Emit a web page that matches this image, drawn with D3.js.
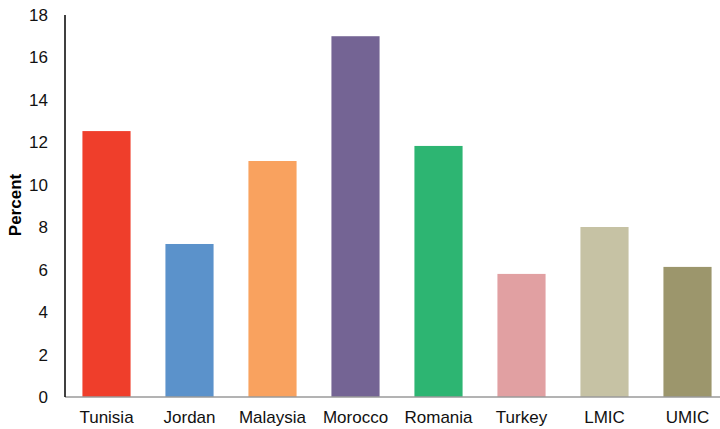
<!DOCTYPE html>
<html>
<head>
<meta charset="utf-8">
<script src="https://cdn.jsdelivr.net/npm/d3@7/dist/d3.min.js"></script>
<style>
  body { margin: 0; background: #fff; }
  svg { display: block; font-family: "Liberation Sans", Arial, Helvetica, sans-serif; }
</style>
</head>
<body>
<svg id="chart" width="720" height="429"></svg>
<script>
const categories = ["Tunisia", "Jordan", "Malaysia", "Morocco", "Romania", "Turkey", "LMIC", "UMIC"];
const values = [12.53, 7.21, 11.12, 17.0, 11.83, 5.8, 8.01, 6.13];
const colors = ["#EF3E2B", "#5B92CB", "#F9A25F", "#746494", "#2DB572", "#E1A0A2", "#C6C2A4", "#9C966C"];
const yTicks = [0, 2, 4, 6, 8, 10, 12, 14, 16, 18];
const yTitle = "Percent";

const svg = d3.select("#chart");
const x0 = 65, yBottom = 397, yTop = 15;

const x = d3.scaleBand().domain(categories).range([x0, 729]).paddingInner(0.42).paddingOuter(0.21);
const y = d3.scaleLinear().domain([0, 18]).range([yBottom, yTop]);

// bars
svg.append("g").selectAll("rect").data(categories).join("rect")
  .attr("x", d => x(d))
  .attr("y", (d, i) => y(values[i]))
  .attr("width", x.bandwidth())
  .attr("height", (d, i) => y(0) - y(values[i]))
  .attr("fill", (d, i) => colors[i]);

// x axis
const xAxis = svg.append("g").attr("transform", `translate(0,${yBottom})`)
  .call(d3.axisBottom(x).tickSize(0).tickPadding(14));
xAxis.select(".domain").remove();
xAxis.selectAll("text").attr("font-size", 17).attr("fill", "#111").attr("font-family", "Liberation Sans, Arial, sans-serif");
svg.append("line").attr("x1", x0).attr("x2", 720).attr("y1", yBottom).attr("y2", yBottom)
  .attr("stroke", "#9a9a9a").attr("stroke-width", 1.5);

// y axis
const yAxis = svg.append("g").attr("transform", `translate(${x0},0)`)
  .call(d3.axisLeft(y).tickValues(yTicks).tickSize(0).tickPadding(17));
yAxis.select(".domain").remove();
yAxis.selectAll("text").attr("font-size", 17).attr("fill", "#111").attr("font-family", "Liberation Sans, Arial, sans-serif");
svg.append("line").attr("x1", x0).attr("x2", x0).attr("y1", yTop).attr("y2", yBottom)
  .attr("stroke", "#000").attr("stroke-width", 1.5);

// y title
svg.append("text")
  .attr("transform", `translate(21,205) rotate(-90)`)
  .attr("text-anchor", "middle")
  .attr("font-size", 17)
  .attr("font-weight", "bold")
  .attr("fill", "#000")
  .text(yTitle);
</script>
</body>
</html>
